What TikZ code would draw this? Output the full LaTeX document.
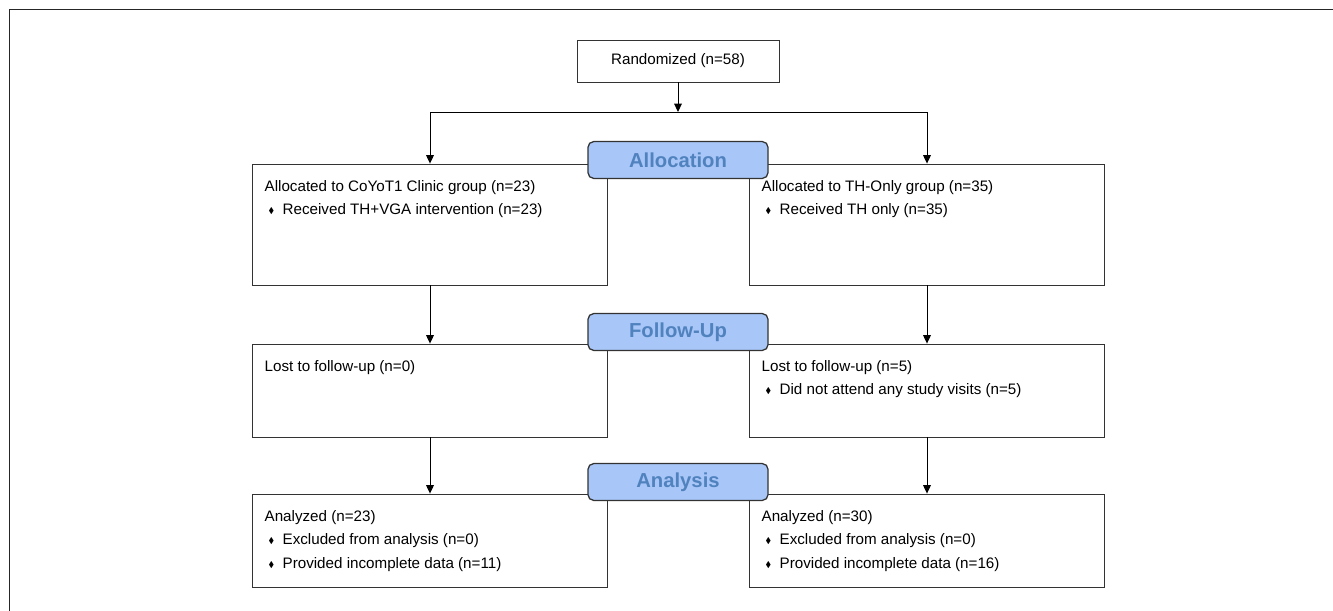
\documentclass[tikz,border=0pt]{standalone}
\usepackage{amssymb}
\usepackage{fontspec}
\setmainfont{Liberation Sans}
\usetikzlibrary{arrows.meta,positioning,calc}

\definecolor{stagefill}{RGB}{168,198,248}
\definecolor{stagetext}{RGB}{80,130,190}
\newcommand{\bul}{\hspace*{0.1cm}\makebox[0.35cm][l]{\raisebox{0.15ex}{\scalebox{0.55}{$\blacklozenge$}}}}

\begin{document}
\begin{tikzpicture}[
    box/.style={rectangle, draw=black!80, line width=0.6pt, minimum width=8.86cm, inner sep=0pt},
    txt/.style={anchor=north west, inner sep=0pt, align=left, font=\fontsize{10.8}{16.7}\selectfont},
    stage/.style={rectangle, draw=black!80, line width=0.9pt, rounded corners=4pt, fill=stagefill,
                  text=stagetext, minimum width=4.5cm, minimum height=0.92cm,
                  font=\fontsize{14.4}{17}\selectfont\bfseries},
    arr/.style={-{Triangle[length=6pt,width=5.5pt]}, line width=0.7pt},
  ]

  \useasboundingbox (0,0) rectangle (33.325,-15.275);

  % Frame
  \draw[black!85, line width=1.2pt] (33.325,-0.2375) -- (0.2375,-0.2375) -- (0.2375,-15.275);

  % Randomized
  \node[box, minimum width=5.05cm, minimum height=1.05cm, font=\fontsize{10.8}{13}\selectfont] (rand) at (16.95,-1.525) {Randomized (n=58)};
  \coordinate (split) at (16.95,-2.8);

  % Allocation
  \node[box, minimum height=3.025cm] (allocL) at (10.75,-5.6125) {};
  \node[box, minimum height=3.025cm] (allocR) at (23.175,-5.6125) {};
  \node[txt] (allocLtext) at ([shift={(0.3,-0.41)}]allocL.north west) {Allocated to CoYoT1 Clinic group (n=23)\\\bul Received TH+VGA intervention (n=23)};
  \node[txt] (allocRtext) at ([shift={(0.3,-0.41)}]allocR.north west) {Allocated to TH-Only group (n=35)\\\bul Received TH only (n=35)};

  % Follow-up
  \node[box, minimum height=2.325cm] (followL) at (10.75,-9.7625) {};
  \node[box, minimum height=2.325cm] (followR) at (23.175,-9.7625) {};
  \node[txt] (followLtext) at ([shift={(0.3,-0.41)}]followL.north west) {Lost to follow-up (n=0)};
  \node[txt] (followRtext) at ([shift={(0.3,-0.41)}]followR.north west) {Lost to follow-up (n=5)\\\bul Did not attend any study visits (n=5)};

  % Analysis
  \node[box, minimum height=2.325cm] (anaL) at (10.75,-13.5125) {};
  \node[box, minimum height=2.325cm] (anaR) at (23.175,-13.5125) {};
  \node[txt] (anaLtext) at ([shift={(0.3,-0.41)}]anaL.north west) {Analyzed (n=23)\\\bul Excluded from analysis (n=0)\\\bul Provided incomplete data (n=11)};
  \node[txt] (anaRtext) at ([shift={(0.3,-0.41)}]anaR.north west) {Analyzed (n=30)\\\bul Excluded from analysis (n=0)\\\bul Provided incomplete data (n=16)};

  % Stage labels
  \node[stage] (stAlloc) at (16.95,-4.0) {Allocation};
  \node[stage] (stFollow) at (16.95,-8.3) {Follow-Up};
  \node[stage] (stAnalysis) at (16.95,-12.05) {Analysis};

  % Arrows
  \draw[arr] (rand) -- (split);
  \draw[arr] (split) -| (allocL.north);
  \draw[arr] (split) -| (allocR.north);

  \draw[arr] (allocL) -- (followL);
  \draw[arr] (allocR) -- (followR);
  \draw[arr] (followL) -- (anaL);
  \draw[arr] (followR) -- (anaR);

\end{tikzpicture}
\end{document}
